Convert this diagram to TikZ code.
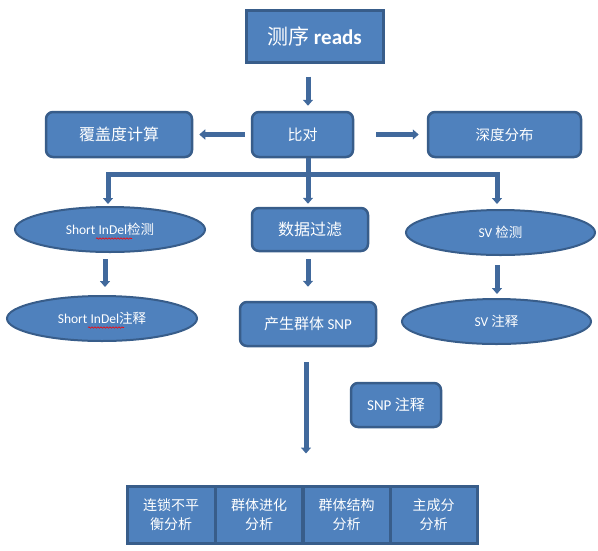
\documentclass[tikz,border=0pt]{standalone}
\usepackage{fontspec}
\setmainfont{Carlito}
\newfontfamily\cjk{Noto Sans CJK SC}
\usetikzlibrary{shapes.geometric,arrows.meta,decorations.pathmorphing}
\definecolor{bfill}{HTML}{4F81BD}
\definecolor{bline}{HTML}{385D8A}
\definecolor{arr}{HTML}{41699C}
\begin{document}
\begin{tikzpicture}[x=1pt,y=-1pt,
 box/.style={draw=bline,fill=bfill,line width=2.5pt,rounded corners=7pt,text=white,inner sep=0pt,font=\fontsize{15}{18}\selectfont\cjk},
 ell/.style={ellipse,draw=bline,fill=bfill,line width=2pt,text=white,inner sep=0pt,minimum width=190pt,minimum height=45pt,font=\fontsize{13.5}{15}\selectfont},
 cell/.style={draw=bline,fill=bfill,line width=3pt,text=white,minimum width=87pt,minimum height=57pt,inner sep=0pt,align=center,font=\fontsize{14}{19.5}\selectfont\cjk},
 barrow/.style={draw=arr,line width=5pt,-{Triangle[width=10pt,length=6pt]}},
 wavy/.style={draw=red,line width=0.6pt,decorate,decoration={snake,amplitude=0.7pt,segment length=3pt}}
]
\path[use as bounding box] (0,0) rectangle (598,550);
% nodes
\node[box,rounded corners=0pt,line width=3pt,minimum width=137pt,minimum height=52pt,font=\fontsize{21}{24}\selectfont] (top) at (314.5,36) {{\cjk 测序} \textbf{reads}};
\node[box,minimum width=101pt,minimum height=45pt] (align) at (302.5,134.5) {比对};
\node[box,minimum width=146pt,minimum height=45pt,font=\fontsize{16}{18}\selectfont\cjk] (cov) at (119,134.5) {覆盖度计算};
\node[box,minimum width=153pt,minimum height=45pt,font=\fontsize{14.5}{18}\selectfont\cjk] (depth) at (504.5,134.5) {深度分布};
\node[ell] (indel) at (110,229.5) {Short InDel{\cjk 检测}};
\node[ell] (indelann) at (102,318.5) {Short InDel{\cjk 注释}};
\node[box,minimum width=116pt,minimum height=43pt,font=\fontsize{16}{18}\selectfont\cjk] (filt) at (310,229.5) {数据过滤};
\node[box,minimum width=136pt,minimum height=44pt,font=\fontsize{15}{18}\selectfont] (snp) at (308,324) {{\cjk 产生群体} SNP};
\node[ell,minimum width=189pt] (sv) at (500.5,232.5) {SV {\cjk 检测}};
\node[ell,minimum width=189pt] (svann) at (496.5,321.5) {SV {\cjk 注释}};
\node[box,minimum width=90pt,minimum height=44pt,font=\fontsize{15}{18}\selectfont] (snpann) at (396,405) {SNP {\cjk 注释}};
\node[cell,minimum width=88pt] (c1) at (171,514.5) {连锁不平\\衡分析};
\node[cell] (c2) at (259,514.5) {群体进化\\分析};
\node[cell] (c3) at (346.5,514.5) {群体结构\\分析};
\node[cell] (c4) at (433.5,514.5) {主成分\\分析};
% helper coordinates
\coordinate (xa) at (308,0);
\coordinate (xi) at (105,0);
\coordinate (xv) at (497,0);
\coordinate (xs) at (306,0);
\coordinate (bl) at (108,174);
\coordinate (br) at (497,174);
% connectors
\draw[barrow,shorten <=13pt,shorten >=5pt] (top.south -| xa) -- (align.north -| xa);
\draw[barrow,shorten <=6pt,shorten >=6pt] (align.west) -- (cov.east);
\draw[barrow,shorten <=22pt,shorten >=8pt] (align.east) -- (depth.west);
\draw[barrow,shorten >=3pt] (align.south -| xa) -- (filt.north -| xa);
\draw[draw=arr,line width=5pt,line join=miter,{Triangle[width=10pt,length=6pt]}-{Triangle[width=10pt,length=6pt]}]
  ([yshift=2pt]indel.north -| bl) -- (bl) -- (br) -- ([yshift=5pt]sv.north -| br);
\draw[barrow,shorten <=6pt,shorten >=8pt] (indel.south -| xi) -- (indelann.north -| xi);
\draw[barrow,shorten <=7pt,shorten >=14pt] (filt.south -| xa) -- (snp.north -| xa);
\draw[barrow,shorten <=9pt,shorten >=4pt] (sv.south -| xv) -- (svann.north -| xv);
\draw[barrow,shorten <=15pt,shorten >=31pt] (snp.south -| xs) -- (c2.north -| xs);
% spelling marks
\draw[wavy] (96,238.5) -- (132,238.5);
\draw[wavy] (88,327.5) -- (124,327.5);
\end{tikzpicture}
\end{document}
